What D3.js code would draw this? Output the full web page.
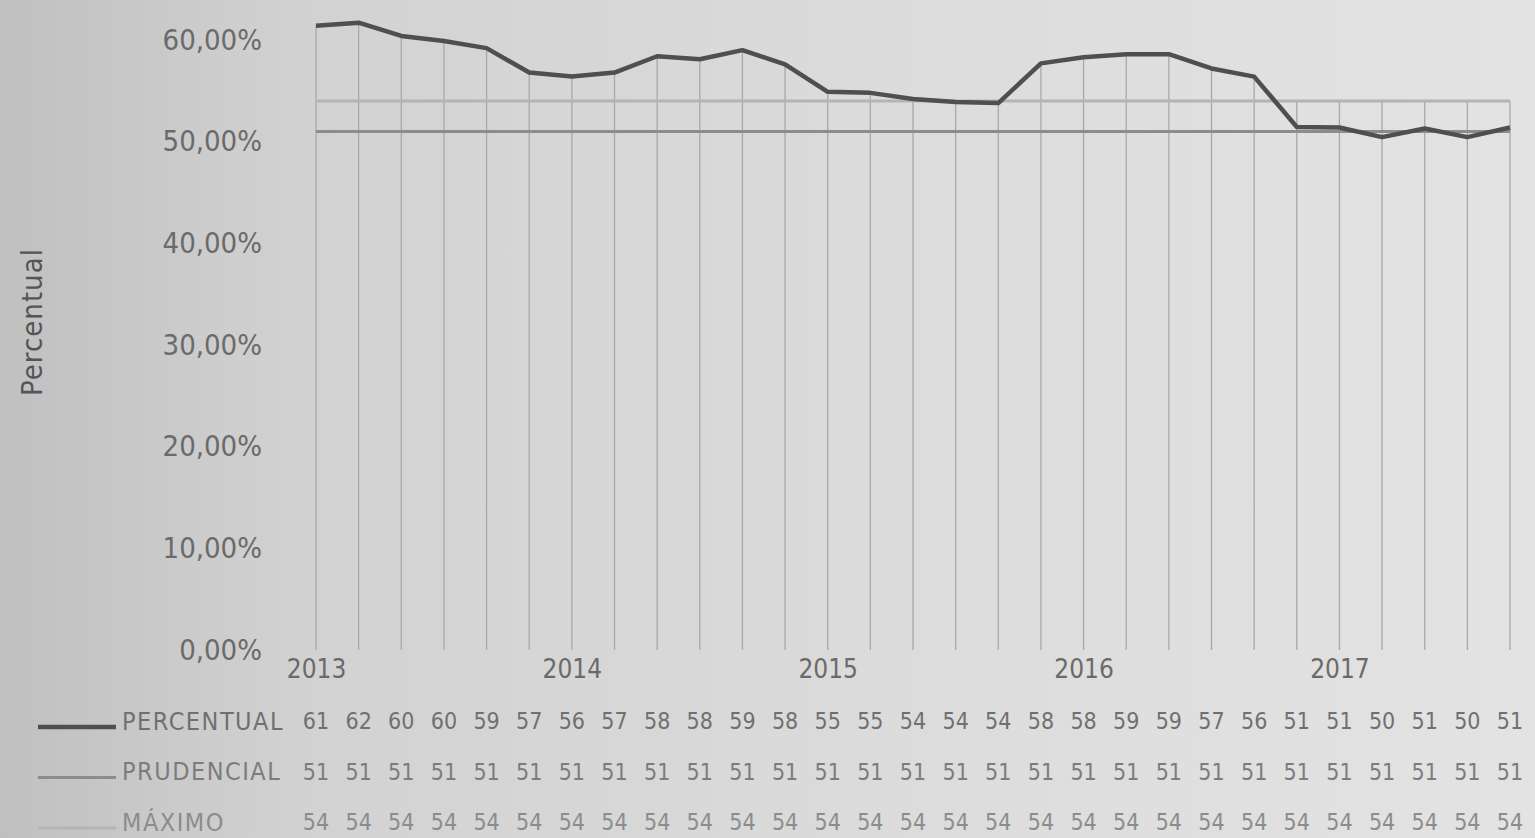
<!DOCTYPE html>
<html>
<head>
<meta charset="utf-8">
<script src="https://cdn.jsdelivr.net/npm/d3@7"></script>
<style>
  body { margin: 0; overflow: hidden; }
  svg { display: block; }
  text { font-family: "Liberation Sans Narrow", "DejaVu Sans Condensed", "Open Sans", sans-serif; }
</style>
</head>
<body>
<svg id="chart" width="1535" height="838"></svg>
<script>
// categories (bimonthly periods)
const periodos = [
  "2013-01","2013-03","2013-05","2013-07","2013-09","2013-11",
  "2014-01","2014-03","2014-05","2014-07","2014-09","2014-11",
  "2015-01","2015-03","2015-05","2015-07","2015-09","2015-11",
  "2016-01","2016-03","2016-05","2016-07","2016-09","2016-11",
  "2017-01","2017-03","2017-05","2017-07","2017-09"
];
const percentual = [61.4, 61.7, 60.4, 59.9, 59.2, 56.8, 56.4, 56.8, 58.4, 58.1, 59.0, 57.6,
  54.9, 54.8, 54.2, 53.9, 53.8, 57.7, 58.3, 58.6, 58.6, 57.2, 56.4, 51.45, 51.4, 50.45, 51.3, 50.45, 51.4];
const prudencial = [51, 51, 51, 51, 51, 51, 51, 51, 51, 51, 51, 51, 51, 51, 51,
  51, 51, 51, 51, 51, 51, 51, 51, 51, 51, 51, 51, 51, 51];
const maximo = [54, 54, 54, 54, 54, 54, 54, 54, 54, 54, 54, 54, 54, 54, 54,
  54, 54, 54, 54, 54, 54, 54, 54, 54, 54, 54, 54, 54, 54];
const yTicks = [0, 10, 20, 30, 40, 50, 60];
const anoTicks = ["2013-01", "2014-01", "2015-01", "2016-01", "2017-01"];

const series = [
  { nome: "PERCENTUAL", valores: percentual, cor: "#4f4f4f", largura: 4.5, texto: "#707070" },
  { nome: "PRUDENCIAL", valores: prudencial, cor: "#8c8c8c", largura: 3, texto: "#7c7c7c" },
  { nome: "MÁXIMO", valores: maximo, cor: "#b4b4b4", largura: 3, texto: "#8c8c8c" }
];

const svg = d3.select("#chart");

// photo-like background
const defs = svg.append("defs");
const grad = defs.append("linearGradient").attr("id", "bg").attr("x1", "0").attr("x2", "1");
grad.append("stop").attr("offset", "0").attr("stop-color", "#c0c0c0");
grad.append("stop").attr("offset", "0.2").attr("stop-color", "#d2d2d2");
grad.append("stop").attr("offset", "0.6").attr("stop-color", "#dcdcdc");
grad.append("stop").attr("offset", "1").attr("stop-color", "#e3e3e3");
svg.append("rect").attr("width", 1535).attr("height", 838).attr("fill", "url(#bg)");

const x = d3.scalePoint().domain(periodos).range([316, 1510]);
const y = d3.scaleLinear().domain([0, 60]).range([650, 40]);

// y axis labels
const yAxis = d3.axisLeft(y)
  .tickValues(yTicks)
  .tickSize(0)
  .tickPadding(0)
  .tickFormat(d => d3.format(".2f")(d).replace(".", ",") + "%");
svg.append("g")
  .attr("transform", "translate(262,0)")
  .call(yAxis)
  .call(g => g.select(".domain").remove())
  .selectAll("text")
  .attr("font-size", 29)
  .attr("fill", "#6a6a6a");

svg.append("text")
  .attr("transform", "translate(42,322) rotate(-90)")
  .attr("text-anchor", "middle")
  .attr("font-size", 29)
  .attr("letter-spacing", 1)
  .attr("fill", "#555")
  .text("Percentual");

// drop lines from highest series down to axis
svg.append("g")
  .selectAll("line")
  .data(periodos)
  .join("line")
  .attr("x1", d => x(d))
  .attr("x2", d => x(d))
  .attr("y1", (d, i) => y(d3.max(series, s => s.valores[i])))
  .attr("y2", y(0))
  .attr("stroke", "#a8a8a8")
  .attr("stroke-width", 1.3);

// x axis year labels
const xAxis = d3.axisBottom(x)
  .tickValues(anoTicks)
  .tickSize(0)
  .tickPadding(10)
  .tickFormat(d => d.slice(0, 4));
svg.append("g")
  .attr("transform", `translate(0,${y(0)})`)
  .call(xAxis)
  .call(g => g.select(".domain").remove())
  .selectAll("text")
  .attr("font-size", 26)
  .attr("fill", "#6a6a6a");

// lines
const linha = d3.line()
  .x((d, i) => x(periodos[i]))
  .y(d => y(d));

svg.append("g")
  .selectAll("path")
  .data(series.slice().reverse())
  .join("path")
  .attr("d", s => linha(s.valores))
  .attr("fill", "none")
  .attr("stroke", s => s.cor)
  .attr("stroke-width", s => s.largura)
  .attr("stroke-linejoin", "round");

// data table
const linhaY = d3.scalePoint().domain(series.map(s => s.nome)).range([721, 822]);
const tabela = svg.append("g");
series.forEach(s => {
  const yy = linhaY(s.nome);
  tabela.append("line")
    .attr("x1", 38).attr("x2", 116)
    .attr("y1", yy + 6).attr("y2", yy + 6)
    .attr("stroke", s.cor)
    .attr("stroke-width", s.largura);
  tabela.append("text")
    .attr("x", 122).attr("y", yy)
    .attr("dy", "0.35em")
    .attr("font-size", 25)
    .attr("letter-spacing", 1.5)
    .attr("fill", s.texto)
    .text(s.nome);
  tabela.append("g")
    .selectAll("text")
    .data(s.valores)
    .join("text")
    .attr("x", (d, i) => x(periodos[i]))
    .attr("y", yy)
    .attr("dy", "0.35em")
    .attr("text-anchor", "middle")
    .attr("font-size", 23)
    .attr("fill", s.texto)
    .text(d => d3.format(".0f")(d));
});
</script>
</body>
</html>
